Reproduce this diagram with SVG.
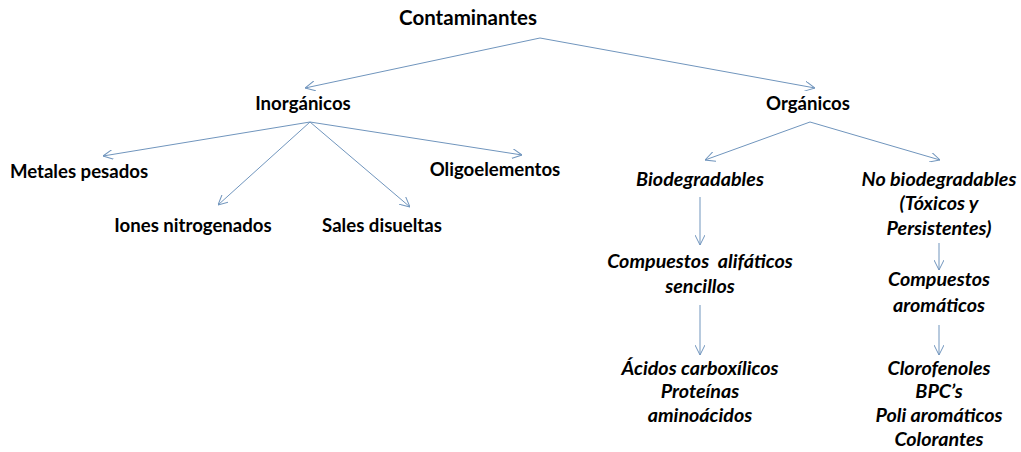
<svg xmlns="http://www.w3.org/2000/svg" width="1021" height="452" viewBox="0 0 1021 452">
<defs>
<marker id="arr" viewBox="0 0 10 10" refX="10" refY="5" markerWidth="10" markerHeight="10" markerUnits="userSpaceOnUse" orient="auto">
<path d="M0,0 L10,5 L0,10" fill="none" stroke="#7095bd" stroke-width="1"/>
</marker>
<style>
.t{font-family:Lato,"Open Sans",sans-serif;font-weight:bold;fill:#000;text-anchor:middle;font-size:18.6px}
.i{font-style:italic;font-size:19.7px}
.c{stroke:#7095bd;stroke-width:1;fill:none;marker-end:url(#arr)}
</style>
</defs>
<rect width="1021" height="452" fill="#fff"/>
<g id="connectors">
<line class="c" x1="540" y1="38" x2="305" y2="88"/>
<line class="c" x1="540" y1="38" x2="815" y2="88"/>
<line class="c" x1="310" y1="122" x2="103" y2="156"/>
<line class="c" x1="310" y1="122" x2="522" y2="155"/>
<line class="c" x1="310" y1="122" x2="218" y2="205"/>
<line class="c" x1="310" y1="122" x2="410" y2="207"/>
<line class="c" x1="810" y1="122" x2="705" y2="160"/>
<line class="c" x1="810" y1="122" x2="940" y2="160"/>
<line class="c" x1="700" y1="197" x2="700" y2="245"/>
<line class="c" x1="700" y1="305" x2="700" y2="355"/>
<line class="c" x1="939" y1="243" x2="939" y2="270"/>
<line class="c" x1="939" y1="325" x2="939" y2="355"/>
</g>
<g id="n-contaminantes"><text class="t" x="468" y="25" style="font-size:20.5px">Contaminantes</text></g>
<g id="n-inorganicos"><text class="t" x="303" y="110">Inorgánicos</text></g>
<g id="n-organicos"><text class="t" x="808" y="110">Orgánicos</text></g>
<g id="n-metales"><text class="t" x="79" y="178">Metales pesados</text></g>
<g id="n-oligo"><text class="t" x="495" y="176">Oligoelementos</text></g>
<g id="n-iones"><text class="t" x="193" y="232">Iones nitrogenados</text></g>
<g id="n-sales"><text class="t" x="382" y="232">Sales disueltas</text></g>
<g id="n-bio"><text class="t i" x="700" y="186">Biodegradables</text></g>
<g id="n-nobio"><text class="t i" x="939" y="186">No biodegradables</text><text class="t i" x="939" y="210">(Tóxicos y</text><text class="t i" x="939" y="235">Persistentes)</text></g>
<g id="n-alif"><text class="t i" x="700" y="268" xml:space="preserve">Compuestos  alifáticos</text><text class="t i" x="700" y="293">sencillos</text></g>
<g id="n-acidos"><text class="t i" x="700" y="375">Ácidos carboxílicos</text><text class="t i" x="700" y="398">Proteínas</text><text class="t i" x="700" y="422">aminoácidos</text></g>
<g id="n-arom"><text class="t i" x="939" y="286">Compuestos</text><text class="t i" x="939" y="312">aromáticos</text></g>
<g id="n-cloro"><text class="t i" x="939" y="375">Clorofenoles</text><text class="t i" x="939" y="398">BPC’s</text><text class="t i" x="939" y="422">Poli aromáticos</text><text class="t i" x="939" y="446">Colorantes</text></g>
</svg>
